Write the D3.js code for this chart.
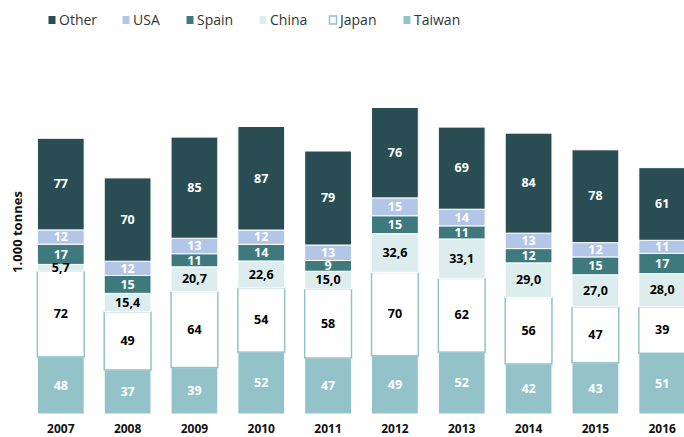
<!DOCTYPE html>
<meta charset="utf-8">
<style>
  body { margin: 0; background: #fff; }
  text { font-family: "Open Sans", "Noto Sans", sans-serif; }
  .legend text { font-size: 14px; fill: #333; }
  .vals text { font-size: 12.5px; font-weight: bold; }
  .years text { font-size: 12px; font-weight: bold; fill: #111; }
</style>
<script src="https://d3js.org/d3.v7.min.js"></script>
<body>
<script>

const width = 684;
const height = 437;

const years = ["2007", "2008", "2009", "2010", "2011", "2012", "2013", "2014", "2015", "2016"];
const seriesNames = ["Taiwan", "Japan", "China", "Spain", "USA", "Other"];
const taiwan = [48, 37, 39, 52, 47, 49, 52, 42, 43, 51];
const japan = [72, 49, 64, 54, 58, 70, 62, 56, 47, 39];
const china = [5.7, 15.4, 20.7, 22.6, 15.0, 32.6, 33.1, 29.0, 27.0, 28.0];
const spain = [17, 15, 11, 14, 9, 15, 11, 12, 15, 17];
const usa = [12, 12, 13, 12, 13, 15, 14, 13, 12, 11];
const other = [77, 70, 85, 87, 79, 76, 69, 84, 78, 61];
const legendOrder = ["Other", "USA", "Spain", "China", "Japan", "Taiwan"];

const fills = {Taiwan: "#93c3c8", Japan: "#ffffff", China: "#ddeded", Spain: "#3e7a7d", USA: "#b4c6e7", Other: "#294d52"};
const textColor = {Taiwan: "#fff", Japan: "#000", China: "#000", Spain: "#fff", USA: "#fff", Other: "#fff"};
const decimals = {China: true};

const table = years.map((y, i) => ({
  year: y, Taiwan: taiwan[i], Japan: japan[i], China: china[i],
  Spain: spain[i], USA: usa[i], Other: other[i]
}));

const stack = d3.stack().keys(seriesNames)(table);

const x = d3.scaleBand()
            .domain(years)
            .range([14, 709])
            .paddingInner(0.3)
            .paddingOuter(0.35);

const y = d3.scaleLinear()
            .domain([0, 260])
            .range([414, 414 - 260 * 1.19]);

const svg = d3.select("body")
              .append("svg")
              .attr("width", width)
              .attr("height", height)
              .style("display", "block");

// bars
const groups = svg.append("g")
                  .selectAll("g")
                  .data(stack)
                  .enter().append("g")
                  .attr("fill", d => fills[d.key]);

groups.selectAll("rect")
      .data(d => d.map(v => Object.assign(v, {key: d.key})))
      .enter().append("rect")
      .attr("x", d => x(d.data.year))
      .attr("width", x.bandwidth())
      .attr("y", d => y(d[1]))
      .attr("height", d => y(d[0]) - y(d[1]))
      .attr("stroke", d => d.key === "Japan" ? "#93c3c8" : "#fff")
      .attr("stroke-width", d => d.key === "Japan" ? 1.5 : 1);

// value labels
const fmt = v => v.toFixed(1).replace(".", ",");
svg.append("g")
   .attr("class", "vals")
   .selectAll("g")
   .data(stack)
   .enter().append("g")
   .selectAll("text")
   .data(d => d)
   .enter().append("text")
   .attr("x", d => x(d.data.year) + x.bandwidth() / 2)
   .attr("y", d => (y(d[0]) + y(d[1])) / 2)
   .attr("dy", "0.34em")
   .attr("text-anchor", "middle")
   .attr("fill", d => textColor[d.key])
   .text(d => decimals[d.key] ? fmt(d.data[d.key]) : d.data[d.key]);

// year labels
svg.append("g")
   .attr("class", "years")
   .selectAll("text")
   .data(years)
   .enter().append("text")
   .attr("x", d => x(d) + x.bandwidth() / 2)
   .attr("y", 433)
   .attr("text-anchor", "middle")
   .text(d => d);

// y axis title
svg.append("text")
   .attr("transform", "translate(22,232) rotate(-90)")
   .attr("text-anchor", "middle")
   .attr("font-size", 13)
   .attr("font-weight", "bold")
   .attr("fill", "#111")
   .text("1.000 tonnes");

// legend
const legendX = [48, 122, 186, 259, 329, 403];
const legend = svg.append("g")
                  .attr("class", "legend")
                  .selectAll("g")
                  .data(legendOrder)
                  .enter().append("g")
                  .attr("transform", (d, i) => `translate(${legendX[i]},20)`);

legend.append("rect")
      .attr("x", 0.5)
      .attr("y", -4)
      .attr("width", 7)
      .attr("height", 8)
      .attr("fill", d => fills[d])
      .attr("stroke", d => d === "Japan" ? "#93c3c8" : "none")
      .attr("stroke-width", 1.5);

legend.append("text")
      .attr("x", 11)
      .attr("dy", "0.35em")
      .text(d => d);
</script>
</body>
